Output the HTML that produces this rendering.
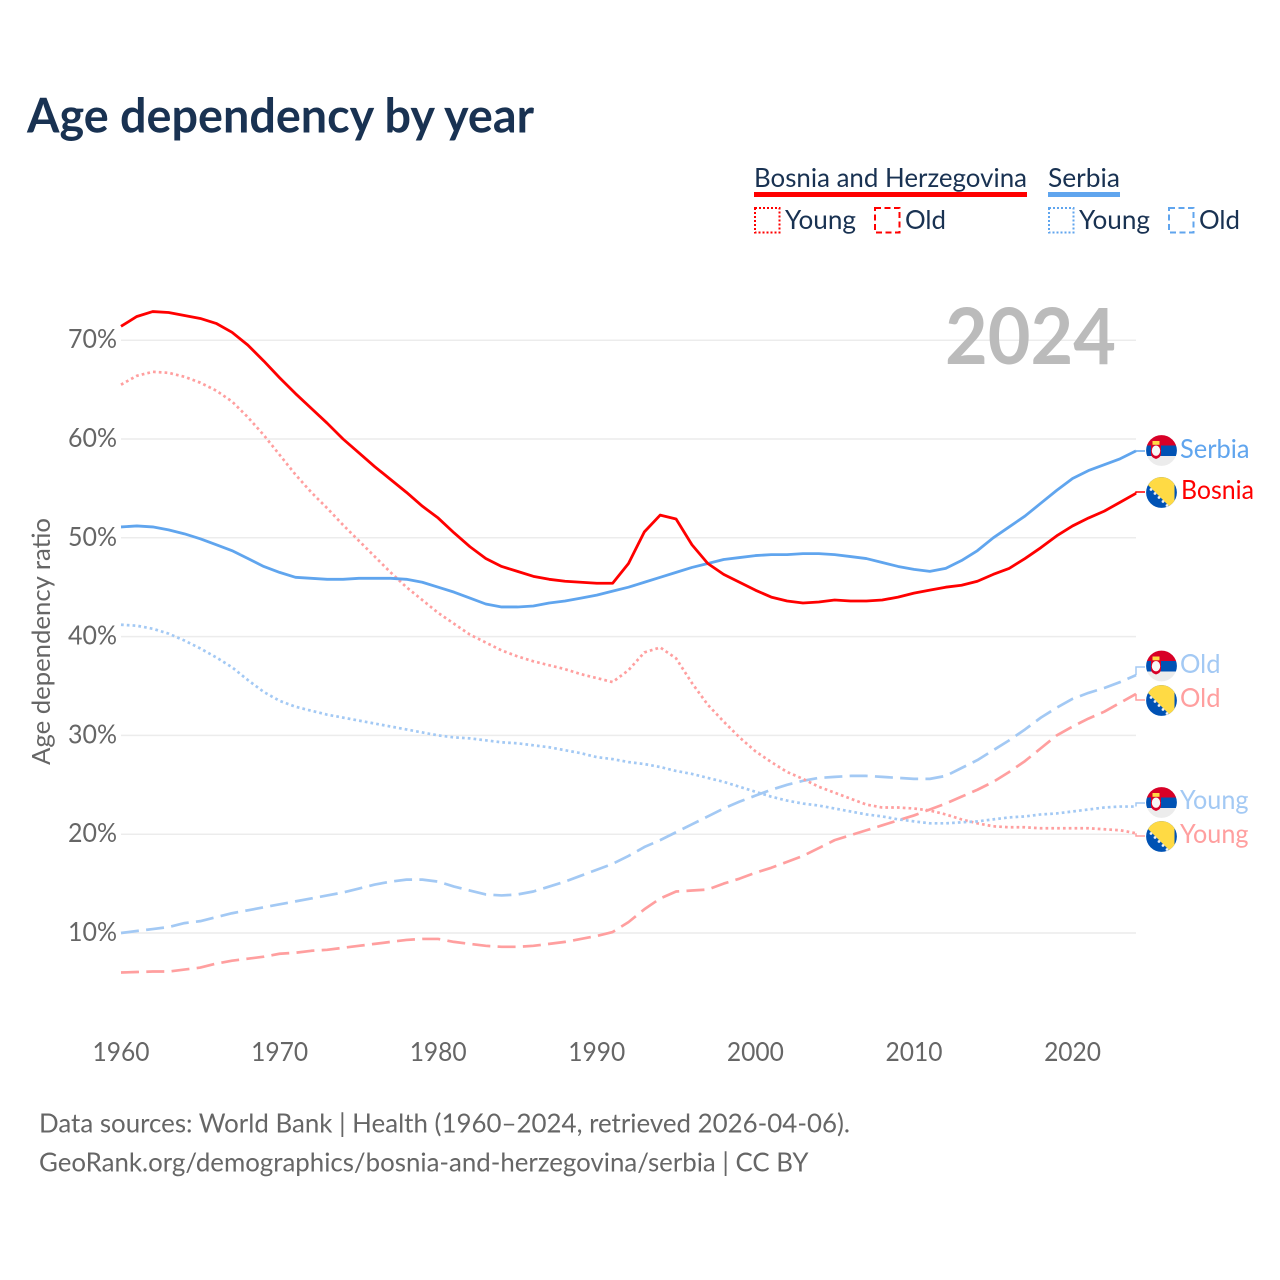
<!DOCTYPE html>
<html lang="en">
<head>
<meta charset="utf-8">
<title>Age dependency by year</title>
<style>
html,body{margin:0;padding:0;background:#fff;}
svg{display:block;}
text{font-family:"Lato","Carlito","Liberation Sans",sans-serif;}
</style>
</head>
<body>
<svg id="chart" xmlns="http://www.w3.org/2000/svg" width="1280" height="1280" viewBox="0 0 1280 1280">
  <defs>
    <clipPath id="flag-clip"><circle cx="0" cy="0" r="15.4"/></clipPath>
    <g id="flag-serbia" clip-path="url(#flag-clip)">
      <rect x="-16" y="-16" width="32" height="32" fill="#ececec"/>
      <rect x="-16" y="-16" width="32" height="11" fill="#d80027"/>
      <rect x="-16" y="-5" width="32" height="10.5" fill="#0052b4"/>
      <path d="M-10.5 -6 H-0.5 V3 Q-0.5 7 -5.5 8.5 Q-10.5 7 -10.5 3 Z" fill="#d80027"/>
      <rect x="-9" y="-9.5" width="7" height="3.8" fill="#ffda44"/>
      <ellipse cx="-5.5" cy="0.2" rx="4.2" ry="5.2" fill="#f7f7f7"/>
    </g>
    <g id="flag-bosnia" clip-path="url(#flag-clip)">
      <rect x="-16" y="-16" width="32" height="32" fill="#0052b4"/>
      <polygon points="-22,-16 13,-16 13,19" fill="#ffda44"/>
      <g fill="#f0f0f0">
        <circle cx="-10.5" cy="-3" r="1.4"/><circle cx="-6.5" cy="1" r="1.4"/><circle cx="-2.5" cy="5" r="1.4"/><circle cx="1.5" cy="9" r="1.4"/><circle cx="5.5" cy="13" r="1.4"/>
      </g>
    </g>
  </defs>

  <text x="27" y="132.7" font-size="48" font-weight="700" fill="#193252" textLength="507" lengthAdjust="spacingAndGlyphs">Age dependency by year</text>

  <g>
    <text x="754" y="187" font-size="26.5" fill="#193252" textLength="273" lengthAdjust="spacingAndGlyphs">Bosnia and Herzegovina</text>
    <rect x="754" y="192" width="273" height="5" fill="#ff0000"/>
    <text x="1048" y="187" font-size="26.5" fill="#193252" textLength="72" lengthAdjust="spacingAndGlyphs">Serbia</text>
    <rect x="1048" y="192" width="72" height="5" fill="#60a5ee"/>
    <rect x="755" y="208" width="24.5" height="24.5" fill="none" stroke="#ff0000" stroke-width="2" stroke-dasharray="2,2"/>
    <text x="785" y="229" font-size="26.5" fill="#193252" textLength="71" lengthAdjust="spacingAndGlyphs">Young</text>
    <rect x="875" y="208" width="24.5" height="24.5" fill="none" stroke="#ff0000" stroke-width="2" stroke-dasharray="6,3.5"/>
    <text x="905" y="229" font-size="26.5" fill="#193252" textLength="41" lengthAdjust="spacingAndGlyphs">Old</text>
    <rect x="1049" y="208" width="24.5" height="24.5" fill="none" stroke="#60a5ee" stroke-width="2" stroke-dasharray="2,2"/>
    <text x="1079" y="229" font-size="26.5" fill="#193252" textLength="71" lengthAdjust="spacingAndGlyphs">Young</text>
    <rect x="1169" y="208" width="24.5" height="24.5" fill="none" stroke="#60a5ee" stroke-width="2" stroke-dasharray="6,3.5"/>
    <text x="1199" y="229" font-size="26.5" fill="#193252" textLength="41" lengthAdjust="spacingAndGlyphs">Old</text>
  </g>

  <g id="grid"></g>
  <g id="yticks"></g>
  <g id="xticks"></g>

  <text transform="translate(50,765) rotate(-90)" font-size="25.5" fill="#666666" textLength="247" lengthAdjust="spacingAndGlyphs">Age dependency ratio</text>

  <text x="945" y="364" font-size="78" font-weight="700" fill="#bbbbbb" textLength="171" lengthAdjust="spacingAndGlyphs">2024</text>

  <g id="series"></g>
  <g id="connectors"></g>

  <g>
    <use href="#flag-serbia" x="1161.5" y="450.5"/>
    <use href="#flag-bosnia" x="1161.5" y="492.5"/>
    <use href="#flag-serbia" x="1161.5" y="666"/>
    <use href="#flag-bosnia" x="1161.5" y="700.5"/>
    <use href="#flag-serbia" x="1161.5" y="802.5"/>
    <use href="#flag-bosnia" x="1161.5" y="836.5"/>
    <text x="1180" y="458" font-size="26.5" fill="#60a5ee" textLength="69.5" lengthAdjust="spacingAndGlyphs">Serbia</text>
    <text x="1181" y="499" font-size="26.5" fill="#ff0000" textLength="73" lengthAdjust="spacingAndGlyphs">Bosnia</text>
    <text x="1180" y="673" font-size="26.5" fill="#a3c9f4" textLength="40.5" lengthAdjust="spacingAndGlyphs">Old</text>
    <text x="1180" y="707" font-size="26.5" fill="#ff9f9f" textLength="40.5" lengthAdjust="spacingAndGlyphs">Old</text>
    <text x="1180" y="809" font-size="26.5" fill="#a3c9f4" textLength="68.5" lengthAdjust="spacingAndGlyphs">Young</text>
    <text x="1180" y="843" font-size="26.5" fill="#ff9f9f" textLength="68.5" lengthAdjust="spacingAndGlyphs">Young</text>
  </g>

  <text x="39" y="1132.5" font-size="26" fill="#666666" textLength="811" lengthAdjust="spacingAndGlyphs">Data sources: World Bank | Health (1960–2024, retrieved 2026-04-06).</text>
  <text x="39" y="1171.5" font-size="26" fill="#666666" textLength="769.5" lengthAdjust="spacingAndGlyphs">GeoRank.org/demographics/bosnia-and-herzegovina/serbia | CC BY</text>
</svg>

<script>
const firstYear = 1960;
const xTickYears = [1960, 1970, 1980, 1990, 2000, 2010, 2020];
const yTickValues = [10, 20, 30, 40, 50, 60, 70];

const bosniaTotal = [71.4,72.4,72.9,72.8,72.5,72.2,71.7,70.8,69.5,67.9,66.2,64.6,63.1,61.6,60.0,58.6,57.2,55.9,54.6,53.2,52.0,50.5,49.1,47.9,47.1,46.6,46.1,45.8,45.6,45.5,45.4,45.4,47.4,50.6,52.3,51.9,49.3,47.4,46.3,45.5,44.7,44.0,43.6,43.4,43.5,43.7,43.6,43.6,43.7,44.0,44.4,44.7,45.0,45.2,45.6,46.3,46.9,47.9,49.0,50.2,51.2,52.0,52.7,53.6,54.5];
const serbiaTotal = [51.1,51.2,51.1,50.8,50.4,49.9,49.3,48.7,47.9,47.1,46.5,46.0,45.9,45.8,45.8,45.9,45.9,45.9,45.8,45.5,45.0,44.5,43.9,43.3,43.0,43.0,43.1,43.4,43.6,43.9,44.2,44.6,45.0,45.5,46.0,46.5,47.0,47.4,47.8,48.0,48.2,48.3,48.3,48.4,48.4,48.3,48.1,47.9,47.5,47.1,46.8,46.6,46.9,47.7,48.7,50.0,51.1,52.2,53.5,54.8,56.0,56.8,57.4,58.0,58.8];
const bosniaYoung = [65.5,66.4,66.8,66.7,66.3,65.7,64.9,63.8,62.2,60.4,58.4,56.4,54.6,53.0,51.3,49.7,48.1,46.5,45.0,43.7,42.4,41.3,40.2,39.4,38.6,38.0,37.5,37.1,36.7,36.2,35.8,35.4,36.6,38.4,38.9,37.8,35.3,33.1,31.4,29.8,28.4,27.3,26.3,25.6,24.8,24.2,23.6,23.0,22.7,22.7,22.6,22.4,22.0,21.5,21.1,20.8,20.7,20.7,20.6,20.6,20.6,20.6,20.5,20.4,20.1];
const serbiaYoung = [41.2,41.1,40.8,40.3,39.6,38.8,37.9,36.9,35.6,34.4,33.5,32.9,32.5,32.1,31.8,31.5,31.2,30.9,30.6,30.3,30.0,29.8,29.7,29.5,29.3,29.2,29.0,28.8,28.5,28.2,27.8,27.6,27.3,27.1,26.8,26.4,26.1,25.7,25.3,24.8,24.3,23.8,23.4,23.1,22.9,22.6,22.3,22.0,21.8,21.5,21.3,21.1,21.1,21.2,21.3,21.5,21.7,21.8,22.0,22.1,22.3,22.5,22.7,22.8,22.8];
const serbiaOld = [10.0,10.2,10.4,10.6,11.0,11.2,11.6,12.0,12.3,12.6,12.9,13.2,13.5,13.8,14.1,14.5,14.9,15.2,15.4,15.4,15.2,14.7,14.3,13.9,13.8,13.9,14.2,14.7,15.2,15.8,16.4,17.0,17.8,18.7,19.4,20.2,21.0,21.8,22.6,23.3,23.9,24.5,25.0,25.4,25.7,25.8,25.9,25.9,25.8,25.7,25.6,25.6,25.9,26.7,27.5,28.5,29.5,30.6,31.8,32.8,33.7,34.3,34.8,35.4,36.1];
const bosniaOld = [6.0,6.05,6.1,6.1,6.3,6.5,6.9,7.2,7.4,7.6,7.9,8.0,8.2,8.3,8.5,8.7,8.9,9.1,9.3,9.4,9.4,9.1,8.9,8.7,8.6,8.6,8.7,8.9,9.1,9.4,9.7,10.1,11.1,12.4,13.5,14.2,14.3,14.4,15.0,15.5,16.1,16.6,17.2,17.8,18.6,19.4,19.9,20.4,20.9,21.4,21.9,22.5,23.1,23.8,24.5,25.3,26.3,27.4,28.7,30.0,30.9,31.7,32.4,33.3,34.2];

const NS = 'http://www.w3.org/2000/svg';
function xScale(year) { return 121 + (year - firstYear) * (1136 - 121) / 64; }
function yScale(value) { return 933 - (value - 10) * 9.88; }
function make(tag, parent) {
  const el = document.createElementNS(NS, tag);
  document.getElementById(parent).appendChild(el);
  return el;
}

yTickValues.forEach(function (v) {
  const line = make('line', 'grid');
  
  
  line.setAttribute('x1', 121);
  line.setAttribute('x2', 1136);
  line.setAttribute('y1', yScale(v));
  line.setAttribute('y2', yScale(v));
  line.setAttribute('stroke', '#ececec');
  line.setAttribute('stroke-width', 1.5);

  const label = make('text', 'yticks');
  
  
  label.setAttribute('x', 68);
  label.setAttribute('y', yScale(v) + 8);
  label.setAttribute('font-size', 26);
  label.setAttribute('fill', '#666666');
  label.setAttribute('textLength', 49);
  label.setAttribute('lengthAdjust', 'spacingAndGlyphs');
  label.textContent = v + '%';
});

xTickYears.forEach(function (year) {
  const label = make('text', 'xticks');
  
  
  label.setAttribute('x', xScale(year) - 28.5);
  label.setAttribute('y', 1061);
  label.setAttribute('font-size', 26);
  label.setAttribute('fill', '#666666');
  label.setAttribute('textLength', 57);
  label.setAttribute('lengthAdjust', 'spacingAndGlyphs');
  label.textContent = String(year);
});

function drawLine(values, name, color, width, dash) {
  const path = make('path', 'series');
  
  
  let d = '';
  values.forEach(function (v, i) {
    d += (i ? 'L' : 'M') + xScale(firstYear + i).toFixed(2) + ' ' + yScale(v).toFixed(2);
  });
  path.setAttribute('d', d);
  path.setAttribute('fill', 'none');
  path.setAttribute('stroke', color);
  path.setAttribute('stroke-width', width);
  path.setAttribute('stroke-linejoin', 'round');
  if (dash) path.setAttribute('stroke-dasharray', dash);
}

function drawConnector(values, name, color, labelY, dash) {
  const last = values[values.length - 1];
  const path = make('path', 'connectors');
  
  
  path.setAttribute('d', 'M1136 ' + yScale(last).toFixed(2) + 'V' + labelY + 'H1145');
  path.setAttribute('fill', 'none');
  path.setAttribute('stroke', color);
  path.setAttribute('stroke-width', 1.5);
  if (dash) path.setAttribute('stroke-dasharray', dash);
}

const lightBlue = '#a3c9f4';
const lightRed = '#ff9f9f';
drawLine(bosniaOld, 'line-bosnia-old', lightRed, 2.7, '18,7.3');
drawLine(serbiaOld, 'line-serbia-old', lightBlue, 2.7, '18,7.3');
drawLine(bosniaYoung, 'line-bosnia-young', lightRed, 2.7, '2.7,3.1');
drawLine(serbiaYoung, 'line-serbia-young', lightBlue, 2.7, '2.7,3.1');
drawLine(serbiaTotal, 'line-serbia-total', '#60a5ee', 2.8, null);
drawLine(bosniaTotal, 'line-bosnia-total', '#ff0000', 2.8, null);

drawConnector(serbiaTotal, 'connector-serbia-total', '#60a5ee', 451, null);
drawConnector(bosniaTotal, 'connector-bosnia-total', '#ff0000', 492, null);
drawConnector(serbiaOld, 'connector-serbia-old', lightBlue, 667, null);
drawConnector(bosniaOld, 'connector-bosnia-old', lightRed, 700, null);
drawConnector(serbiaYoung, 'connector-serbia-young', lightBlue, 803, null);
drawConnector(bosniaYoung, 'connector-bosnia-young', lightRed, 836, null);
</script>
</body>
</html>
